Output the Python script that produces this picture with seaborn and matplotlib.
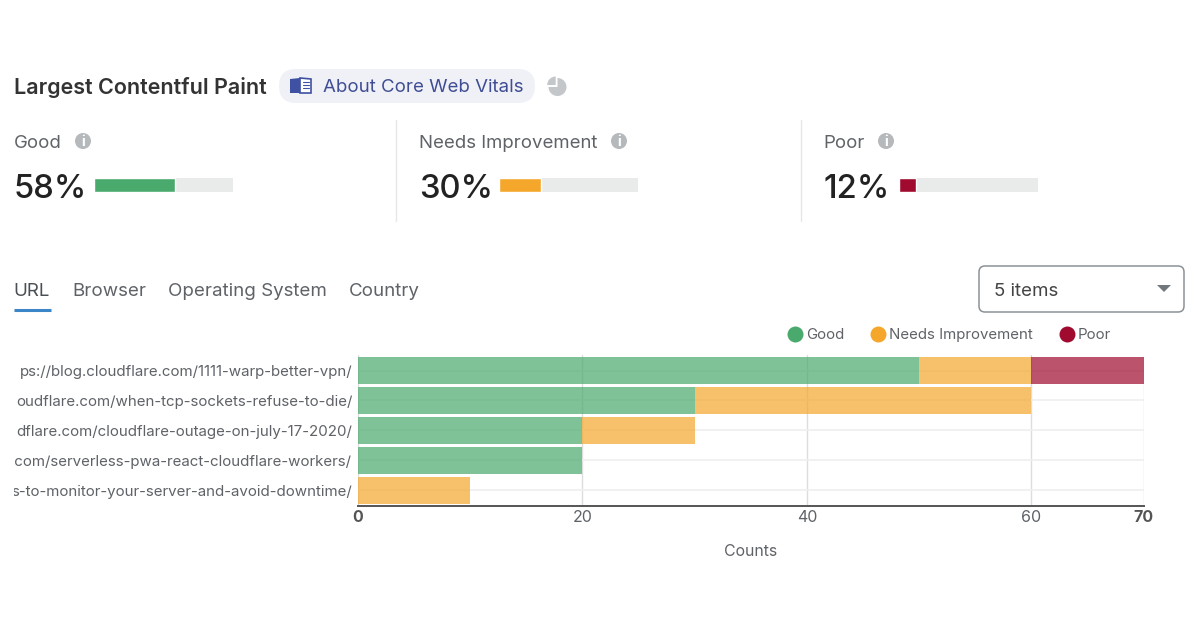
import matplotlib
matplotlib.use("Agg")
import matplotlib.pyplot as plt
import numpy as np
import pandas as pd
import seaborn as sns
from matplotlib.lines import Line2D
from matplotlib.patches import Circle, FancyBboxPatch, Polygon, Wedge
from matplotlib.transforms import Bbox

# the reference cuts these off at the left edge of the chart
urls = [
    "ps://blog.cloudflare.com/1111-warp-better-vpn/",
    "oudflare.com/when-tcp-sockets-refuse-to-die/",
    "dflare.com/cloudflare-outage-on-july-17-2020/",
    ".com/serverless-pwa-react-cloudflare-workers/",
    "s-to-monitor-your-server-and-avoid-downtime/",
]
good_counts = [50, 30, 20, 20, 0]
needs_counts = [10, 30, 10, 0, 10]
poor_counts = [10, 0, 0, 0, 0]
x_ticks = [0, 20, 40, 60, 70]

categories = ["Good", "Needs Improvement", "Poor"]
shares = [58, 30, 12]
tabs = ["URL", "Browser", "Operating System", "Country"]

GREEN = "#4aa96c"
ORANGE = "#f5a72c"
RED = "#a00a2e"
TEXT = "#5f6368"
W, H = 1200, 628

sns.set_theme(style="white")
plt.rcParams["font.family"] = ["Inter", "DejaVu Sans"]


def px_axes(fig, left, top, right, bottom):
    # axes placed with reference pixel coordinates
    return fig.add_axes([left / W, 1 - bottom / H, (right - left) / W, (bottom - top) / H])


def draw_share_bar(fig, left, top, value, color):
    ax = px_axes(fig, left, top, left + 139, top + 14)
    ax.set_facecolor("#e9ebea")
    sns.barplot(x=[value], y=[""], color=color, width=1, saturation=1, ax=ax, orient="h")
    ax.set_xlim(0, 100)
    ax.axis("on")
    ax.set_xticks([])
    ax.set_yticks([])
    ax.set_xlabel("")
    ax.set_ylabel("")
    sns.despine(ax=ax, left=True, bottom=True)


def draw_info(ui, x, y):
    ui.add_patch(Circle((x, y), 8, color="#b5b9bc", lw=0))
    ui.text(x, y + 0.5, "i", color="white", fontsize=10, fontweight="bold", ha="center", va="center")


fig = plt.figure(figsize=(W / 100, H / 100), dpi=100, facecolor="white")

# page furniture drawn in pixel space
ui = fig.add_axes([0, 0, 1, 1])
ui.set_xlim(0, W)
ui.set_ylim(H, 0)
ui.axis("off")

ui.text(14, 87, "Largest Contentful Paint", fontsize=15.5, fontweight="semibold", color="#333333", va="center")
ui.add_patch(FancyBboxPatch((279, 69), 256, 34, boxstyle="round,pad=0,rounding_size=17", fc="#f0f1f7", ec="none"))
ui.add_patch(Polygon([(290, 79), (300, 78), (300, 93), (290, 93)], fc="#3f51a3", ec="none"))
ui.add_patch(Polygon([(300, 78), (311, 79), (311, 93), (300, 93)], fc="white", ec="#3f51a3", lw=1.2))
for y_line in [82, 85, 88]:
    ui.plot([303, 309], [y_line, y_line], color="#3f51a3", lw=0.8)
ui.text(323, 87.5, "About Core Web Vitals", fontsize=13.45, color="#3f4d94", va="center")
ui.add_patch(Wedge((557.5, 87), 9, 270, 180, fc="#c4c7c9", ec="none"))
ui.add_patch(Wedge((555.7, 85), 8.5, 180, 270, fc="#c4c7c9", ec="none"))

columns = [(14, 95, GREEN), (419, 500, ORANGE), (823.5, 900, RED)]
info_x = [83, 619, 886]
for name, share, (x_text, x_bar, color), x_info in zip(categories, shares, columns, info_x):
    ui.text(x_text, 143, name, fontsize=13.4, color=TEXT, va="center")
    draw_info(ui, x_info, 141)
    ui.text(x_text, 189.5, f"{share}%", fontsize=23.6, fontweight="medium", color="#222222", va="center")
    draw_share_bar(fig, x_bar - 1, 178, share, color)
for x_sep in [396, 801]:
    ui.plot([x_sep, x_sep], [120, 221], color="#e6e8e8", lw=1)

tab_x = [13.5, 72.5, 168, 349]
for i, (tab, x_tab) in enumerate(zip(tabs, tab_x)):
    ui.text(x_tab, 291, tab, fontsize=13.5, color="#4a4f54" if i == 0 else TEXT, va="center")
ui.plot([14, 51], [309.5, 309.5], color="#3a86c8", lw=2.2, solid_capstyle="butt")

ui.add_patch(FancyBboxPatch((979, 266), 205, 46, boxstyle="round,pad=0,rounding_size=6", fc="white",
                            ec="#8a9297", lw=1.1))
ui.text(994, 291, "5 items", fontsize=13.5, color="#444444", va="center")
ui.add_patch(Polygon([(1157, 285), (1171, 285), (1164, 292)], fc="#71787d", ec="none"))

# stacked bar chart
ax = px_axes(fig, 358, 355, 1143.5, 506)
ax.set_facecolor("none")
df = pd.DataFrame({"url": urls, "Good": good_counts, "Needs Improvement": needs_counts, "Poor": poor_counts})
left = np.zeros(len(urls))
for name, color in zip(categories, [GREEN, ORANGE, RED]):
    sns.barplot(data=df, x=name, y="url", color=color, left=left, width=0.9, saturation=1, alpha=0.7,
                ax=ax, orient="h", zorder=3, linewidth=0)
    left = left + df[name].to_numpy()

ax.set_xlim(0, 70)
ax.set_ylim(4.53, -0.52)
ax.set_xlabel("")
ax.set_ylabel("")
ax.set_xticks(x_ticks)
ax.grid(axis="y", color="#efefef", lw=1.2, zorder=0)
ax.grid(axis="x", color="#dddddd", lw=1, zorder=0)
ax.set_axisbelow(True)
ax.tick_params(axis="both", length=0)
ax.tick_params(axis="x", pad=3)
ax.tick_params(axis="y", pad=4.2)
sns.despine(ax=ax, left=True, top=True, right=True)
ax.spines["bottom"].set_color("#555555")
ax.spines["bottom"].set_linewidth(1.4)

for label, tick in zip(ax.get_xticklabels(), x_ticks):
    bold = tick in (0, 70)
    label.set_fontsize(11.5)
    label.set_color("#555555" if bold else TEXT)
    label.set_fontweight("bold" if bold else "normal")

label_clip = Bbox([[14, 0], [358, H]])
for label in ax.get_yticklabels():
    label.set_fontsize(10.85)
    label.set_color(TEXT)
    label.set_clip_on(True)
    label.set_clip_box(label_clip)

ui.text(751, 551, "Counts", fontsize=11.4, color=TEXT, ha="center", va="center")

handles = [Line2D([], [], ls="", marker="o", ms=11.5, color=c, mew=0) for c in [GREEN, ORANGE, RED]]
ui.legend(handles, categories, loc="center left", bbox_to_anchor=(788 / W, 1 - 335 / H), ncol=3, frameon=False,
          fontsize=10.8, labelcolor=TEXT, handlelength=0.9, handletextpad=0.3, columnspacing=1.8, borderpad=0,
          borderaxespad=0)

fig.savefig("out.png", dpi=100, facecolor="white")
